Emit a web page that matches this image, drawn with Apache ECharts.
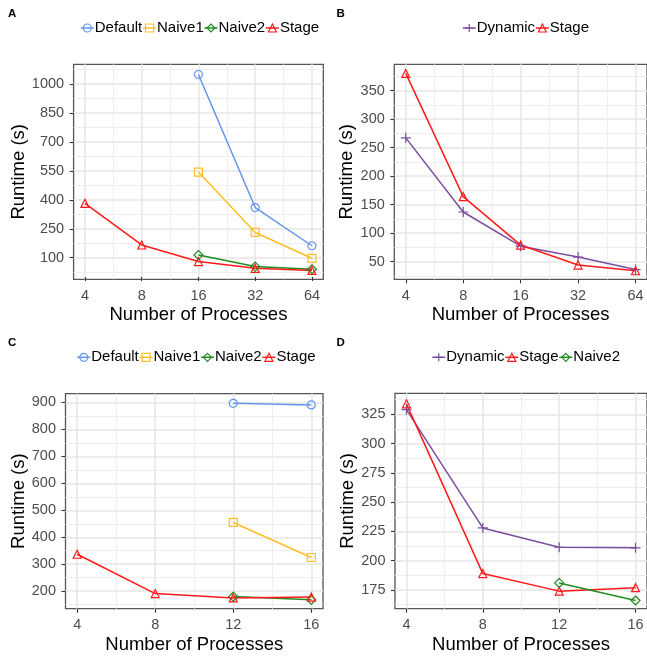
<!DOCTYPE html>
<html><head><meta charset="utf-8">
<script src="https://cdn.jsdelivr.net/npm/echarts@6/dist/echarts.min.js"></script>
<style>html,body{margin:0;padding:0;background:#fff}#c{width:647px;height:660px}</style>
</head><body><div id="c"></div>
<script>
// ---------- Panel A ----------
const procsA = [4, 8, 16, 32, 64];
const defaultA = [null, null, 1050, 360, 162];
const naive1A = [null, null, 544, 231, 97];
const naive2A = [null, null, 114, 54, 40];
const stageA = [382, 166, 80, 45, 34];
const yTicksA = [100, 250, 400, 550, 700, 850, 1000];
// ---------- Panel B ----------
const procsB = [4, 8, 16, 32, 64];
const dynamicB = [267, 137, 77, 58, 36];
const stageB = [380, 164, 79, 44, 34];
const yTicksB = [50, 100, 150, 200, 250, 300, 350];
// ---------- Panel C ----------
const procsC = [4, 8, 12, 16];
const defaultC = [null, null, 897, 891];
const naive1C = [null, null, 455, 325];
const naive2C = [null, null, 180, 168];
const stageC = [337, 191, 175, 178];
const yTicksC = [200, 300, 400, 500, 600, 700, 800, 900];
// ---------- Panel D ----------
const procsD = [4, 8, 12, 16];
const dynamicD = [329, 228, 211.5, 211];
const stageD = [334, 189, 174, 177];
const naive2D = [null, null, 181, 166];
const yTicksD = [175, 200, 225, 250, 275, 300, 325];
// x tick labels
const xTicksLog = [4, 8, 16, 32, 64];
const xTicksLin = [4, 8, 12, 16];
// labels
const panelLabels = ['A', 'B', 'C', 'D'];
const xTitle = 'Number of Processes';
const yTitle = 'Runtime (s)';

const FONT = 'Liberation Sans, Arial, Helvetica, sans-serif';
const COL = {Default:'#6495ED', Naive1:'#FFBF24', Naive2:'#228B22', Stage:'#FF1A1A', Dynamic:'#7B4FA0'};
const SYM = {Default:'circle', Naive1:'rect', Naive2:'diamond', Stage:'triangle', Dynamic:'path://M5,0V10M0,5H10'};

function minorLin(t){const s=t[1]-t[0];const r=[t[0]-s/2];for(let i=0;i<t.length-1;i++)r.push((t[i]+t[i+1])/2);r.push(t[t.length-1]+s/2);return r;}
function minorLog(t){const r=[t[0]/Math.SQRT2];for(let i=0;i<t.length-1;i++)r.push(Math.sqrt(t[i]*t[i+1]));r.push(t[t.length-1]*Math.SQRT2);return r;}
const fmt = v => String(Math.round(v * 100) / 100);

const panels = [
  {grid:{left:73.6, top:64.3, width:249.7, height:215}, log:true, xmin:Math.pow(2,1.8), xmax:Math.pow(2,6.2), xt:xTicksLog,
   ymin:-12, ymax:1103, yt:yTicksA, yGap:43, xGap:24.5, procs:procsA,
   series:[['Default',defaultA],['Naive1',naive1A],['Naive2',naive2A],['Stage',stageA]], legendLeft:80, legendTop:20.5},
  {grid:{left:394.3, top:64.3, width:258.5, height:215}, log:true, xmin:Math.pow(2,1.8), xmax:Math.pow(2,6.2), xt:xTicksLog,
   ymin:19, ymax:396, yt:yTicksB, yGap:36, xGap:24.5, procs:procsB,
   series:[['Dynamic',dynamicB],['Stage',stageB]], legendLeft:462, legendTop:20.5},
  {grid:{left:65.5, top:393.6, width:257.5, height:215.1}, log:false, xmin:3.4, xmax:16.6, xt:xTicksLin,
   ymin:135, ymax:933, yt:yTicksC, yGap:36.5, xGap:25, procs:procsC,
   series:[['Default',defaultC],['Naive1',naive1C],['Naive2',naive2C],['Stage',stageC]], legendLeft:76.5, legendTop:349.8},
  {grid:{left:395, top:393.3, width:258, height:215.4}, log:false, xmin:3.4, xmax:16.6, xt:xTicksLin,
   ymin:159, ymax:343, yt:yTicksD, yGap:37.5, xGap:25, procs:procsD,
   series:[['Dynamic',dynamicD],['Stage',stageD],['Naive2',naive2D]], legendLeft:431.5, legendTop:349.8}
];

const option = {animation:false, textStyle:{fontFamily:FONT}, grid:[], xAxis:[], yAxis:[], series:[], legend:[], title:[]};
const titlePos = [[8,7.5],[336.5,7.5],[8,336.5],[336.5,336.5]];

panels.forEach((p, i) => {
  option.grid.push(Object.assign({show:true, borderColor:'#555', borderWidth:1.3, backgroundColor:'transparent'}, p.grid));
  const xType = p.log ? 'log' : 'value';
  const xMinor = p.log ? minorLog(p.xt) : minorLin(p.xt);
  const yMinor = minorLin(p.yt);
  const common = {gridIndex:i, axisLine:{show:false}, minorTick:{show:false}, minorSplitLine:{show:false}};
  option.xAxis.push(Object.assign({}, common, {
    type:xType, logBase:2, min:p.xmin, max:p.xmax,
    axisTick:{show:true, length:4, customValues:p.xt, lineStyle:{color:'#333', width:1.1}},
    axisLabel:{customValues:p.xt, formatter:fmt, color:'#4d4d4d', fontSize:14.5, margin:9, fontFamily:FONT},
    splitLine:{show:true, lineStyle:{color:'#e6e6e6', width:1.5}},
    name:xTitle, nameLocation:'middle', nameGap:p.xGap + 1.5, nameTextStyle:{fontSize:18.5, color:'#000', fontFamily:FONT}
  }));
  option.xAxis.push(Object.assign({}, common, {
    type:xType, logBase:2, min:p.xmin, max:p.xmax,
    axisTick:{show:false, customValues:xMinor}, axisLabel:{show:false},
    splitLine:{show:true, lineStyle:{color:'#eeeeee', width:1}}
  }));
  option.yAxis.push(Object.assign({}, common, {
    type:'value', min:p.ymin, max:p.ymax,
    axisTick:{show:true, length:4, customValues:p.yt, lineStyle:{color:'#333', width:1.1}},
    axisLabel:{customValues:p.yt, formatter:fmt, color:'#4d4d4d', fontSize:14.5, margin:9.5, fontFamily:FONT},
    splitLine:{show:true, lineStyle:{color:'#e6e6e6', width:1.5}},
    name:yTitle, nameLocation:'middle', nameGap:p.yGap, nameTextStyle:{fontSize:18.5, color:'#000', fontFamily:FONT}
  }));
  option.yAxis.push(Object.assign({}, common, {
    type:'value', min:p.ymin, max:p.ymax,
    axisTick:{show:false, customValues:yMinor}, axisLabel:{show:false},
    splitLine:{show:true, lineStyle:{color:'#eeeeee', width:1}}
  }));
  p.series.forEach(([name, vals]) => {
    const c = COL[name];
    option.series.push({
      type:'line', name, xAxisIndex:2*i, yAxisIndex:2*i,
      data: p.procs.map((x, k) => [x, vals[k]]),
      symbol: SYM[name], symbolSize: name === 'Dynamic' ? 10 : (name === 'Naive2' ? 9 : 8),
      color: c,
      lineStyle:{color:c, width:1.5},
      itemStyle:{color:'rgba(255,255,255,0)', borderColor:c, borderWidth:1.2},
      emphasis:{disabled:true}, z:3
    });
  });
  option.legend.push({
    data: p.series.map(s => s[0]), left:p.legendLeft, top:p.legendTop, padding:0,
    itemWidth:13, itemHeight:10, itemGap:0, selectedMode:false,
    itemStyle:{borderWidth:1.2}, lineStyle:{width:1.5},
    textStyle:{fontSize:15, color:'#000', fontFamily:FONT, padding:[0,0,0,-4]}
  });
  option.title.push({text:panelLabels[i], left:titlePos[i][0], top:titlePos[i][1], padding:0,
    textStyle:{fontSize:11.5, fontWeight:'bold', color:'#000', fontFamily:FONT}});
});

const chart = echarts.init(document.getElementById('c'), null, {renderer:'canvas'});
chart.setOption(option);
</script>
</body></html>
